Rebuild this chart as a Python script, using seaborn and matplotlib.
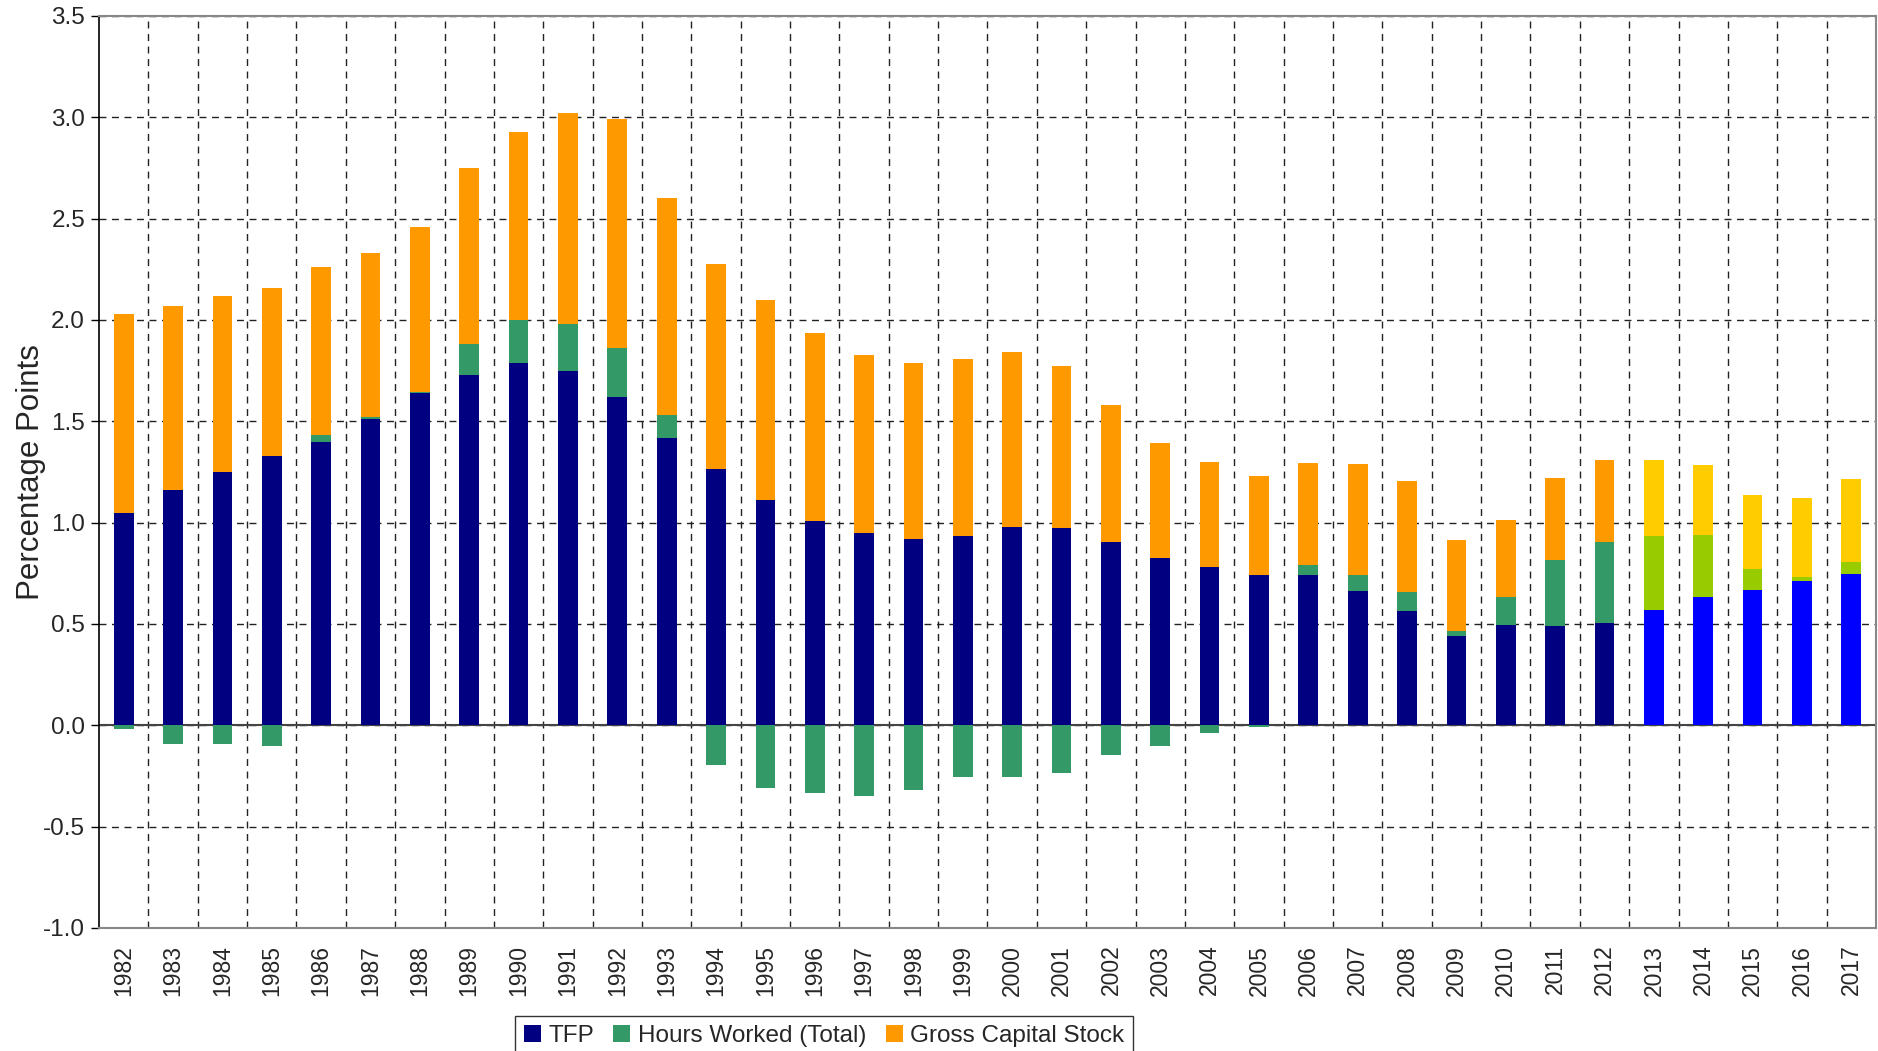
import numpy as np
import pandas as pd
import matplotlib
matplotlib.use('Agg')
import matplotlib.pyplot as plt
from matplotlib.patches import Patch
from matplotlib.ticker import MultipleLocator, FormatStrFormatter
import seaborn as sns

# Contributions to potential growth, percentage points
years = list(range(1982, 2018))
tfp = [1.05, 1.16, 1.25, 1.33, 1.40, 1.51, 1.64, 1.73, 1.79, 1.75, 1.62, 1.42,
       1.265, 1.113, 1.007, 0.951, 0.917, 0.936, 0.980, 0.975, 0.907, 0.828,
       0.779, 0.740, 0.740, 0.665, 0.562, 0.443, 0.493, 0.488, 0.507, 0.571,
       0.635, 0.670, 0.714, 0.749]
hours = [-0.02, -0.09, -0.09, -0.10, 0.035, 0.01, 0.005, 0.15, 0.21, 0.23, 0.24, 0.11,
         -0.195, -0.31, -0.335, -0.35, -0.32, -0.255, -0.255, -0.235, -0.145, -0.10,
         -0.04, -0.01, 0.05, 0.075, 0.095, 0.02, 0.14, 0.33, 0.40, 0.365,
         0.305, 0.10, 0.02, 0.055]
capital = [0.98, 0.91, 0.87, 0.83, 0.825, 0.81, 0.815, 0.87, 0.93, 1.04, 1.13, 1.07,
           1.01, 0.985, 0.93, 0.877, 0.871, 0.872, 0.862, 0.798, 0.674, 0.566,
           0.521, 0.492, 0.506, 0.551, 0.55, 0.453, 0.382, 0.404, 0.403, 0.374,
           0.346, 0.368, 0.389, 0.413]
series_names = ['TFP', 'Hours Worked (Total)', 'Gross Capital Stock']
first_forecast = 2013

# colours: history / forecast
TFP_C, TFP_F = '#000080', '#0000FF'
HRS_C, HRS_F = '#339966', '#99CC00'
CAP_C, CAP_F = '#FF9900', '#FFCC00'

sns.set_style('white')
plt.rcParams['font.family'] = ['Liberation Sans', 'DejaVu Sans']

df = pd.DataFrame({'year': [str(y) for y in years], 'tfp': tfp,
                   'hours': hours, 'capital': capital})
df['hours_neg'] = df['hours'].clip(upper=0)
df['top_hours'] = df['tfp'] + df['hours'].clip(lower=0)
df['top_cap'] = df['top_hours'] + df['capital']
fc = [y >= first_forecast for y in years]


def pal(hist, fore):
    return {y: (fore if f else hist) for y, f in zip(df['year'], fc)}


fig = plt.figure(figsize=(18.78, 10.51), dpi=100)
ax = fig.add_axes([99 / 1878, (1051 - 928) / 1051, 1777 / 1878, 912 / 1051])

common = dict(data=df, x='year', hue='year', width=0.4, dodge=False,
              legend=False, saturation=1, errorbar=None, ax=ax)
# draw back to front so that the stacks show through
sns.barplot(y='top_cap', palette=pal(CAP_C, CAP_F), **common)
sns.barplot(y='top_hours', palette=pal(HRS_C, HRS_F), **common)
sns.barplot(y='hours_neg', palette=pal(HRS_C, HRS_F), **common)
sns.barplot(y='tfp', palette=pal(TFP_C, TFP_F), **common)
for p in ax.patches:
    p.set_linewidth(0)
    p.set_zorder(3)

ax.set_xlim(-0.5, len(years) - 0.5)
ax.set_ylim(-1.0, 3.5)
ax.yaxis.set_major_locator(MultipleLocator(0.5))
ax.yaxis.set_major_formatter(FormatStrFormatter('%.1f'))

# dashed grid, category boundaries on x
ax.set_xticks(np.arange(0.5, len(years) - 1, 1), minor=True)
grid_kw = dict(color='#222222', linewidth=1.0, linestyle=(0, (5, 4)))
ax.xaxis.grid(True, which='minor', **grid_kw)
ax.xaxis.grid(False, which='major')
ax.yaxis.grid(True, which='major', **grid_kw)
ax.set_axisbelow(True)
ax.axhline(0, color='#444444', linewidth=1.5, zorder=2)

ax.tick_params(axis='x', which='both', length=0, pad=12, labelsize=16.5,
               labelrotation=90)
ax.tick_params(axis='y', which='major', direction='out', length=6, width=1,
               color='black', left=True, labelsize=17.5, pad=4)

for side in ['top', 'bottom', 'right']:
    ax.spines[side].set_color('#888888')
    ax.spines[side].set_linewidth(1.5)
ax.spines['left'].set_color('black')
ax.spines['left'].set_linewidth(1.2)

ax.set_xlabel('')
ax.set_ylabel('Percentage Points', fontsize=22.5)
ax.yaxis.set_label_coords(-0.03, 0.5)

handles = [Patch(facecolor=c, edgecolor='none') for c in (TFP_C, HRS_C, CAP_C)]
leg = fig.legend(handles, series_names, loc='upper center',
                 bbox_to_anchor=(824 / 1878, 35 / 1051), ncol=3, fontsize=17.5,
                 frameon=True, fancybox=False, edgecolor='black',
                 handlelength=0.7, handleheight=0.7, handletextpad=0.3,
                 columnspacing=0.8, borderpad=0.35, borderaxespad=0)
leg.get_frame().set_linewidth(1.0)

fig.savefig('out.png', dpi=100)
